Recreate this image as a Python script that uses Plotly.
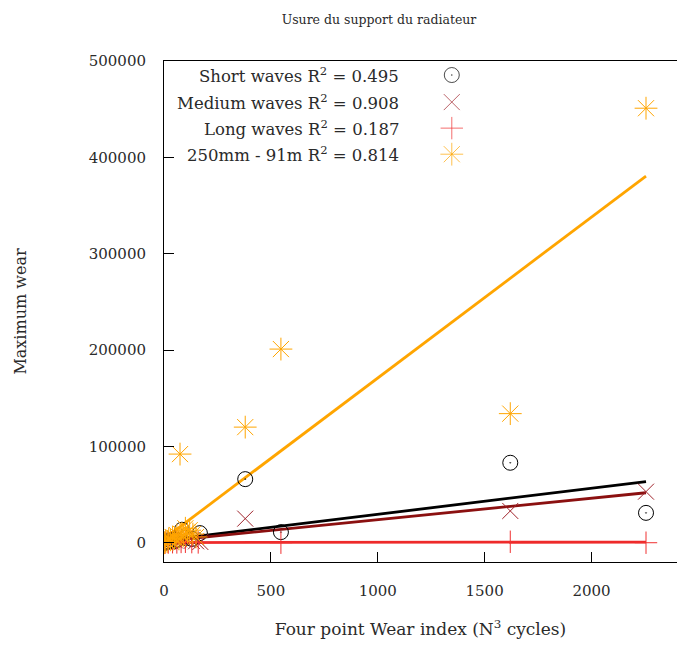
import plotly.graph_objects as go

# ---------------- data ----------------
short_x = [5, 12, 20, 30, 45, 60, 84, 100, 130, 168, 380, 547, 1620, 2255]
short_y = [0, 500, 1500, 2500, 1500, 3000, 13500, 5000, 4000, 10000, 66000, 11000, 83000, 31000]

medium_x = [5, 15, 30, 50, 70, 90, 110, 130, 150, 170, 380, 1620, 2255]
medium_y = [0, 800, 1500, 2500, 3500, 4000, 3000, 2000, 1500, 800, 25000, 33000, 53000]

long_x = [5, 20, 40, 60, 80, 100, 130, 160, 547, 1620, 2255]
long_y = [0, 200, 500, 300, 800, 1000, 600, 300, 0, 1000, 0]

mm_x = [3, 8, 15, 22, 30, 40, 50, 60, 70, 75, 80, 90, 100, 110, 120, 135, 150, 380, 547, 1620, 2255]
mm_y = [0, 2000, 1000, 4000, 3000, 6000, 5000, 8000, 4000, 92000, 9000, 7000, 15000, 11000, 13000, 9000, 6000, 120000, 201000, 134000, 451000]

# linear fits (slope, intercept) and R^2
fit_slope = [27.0, 22.3, 0.2, 167.0]
fit_intercept = [2500, 1600, 200, 4000]
r2 = [0.495, 0.908, 0.187, 0.814]
names = ["Short waves", "Medium waves", "Long waves", "250mm - 91m"]

x_ticks = [0, 500, 1000, 1500, 2000]
y_ticks = [0, 100000, 200000, 300000, 400000, 500000]

# ---------------- style ----------------
FONT = "DejaVu Serif"
TXT = "#2a2a2a"
marker_colors = ["black", "#a0242c", "#f03030", "#ffa500"]
line_colors = ["black", "#8b1010", "#ee2a2a", "#ffa500"]
symbols = ["circle-open-dot", "x-thin-open", "cross-thin-open", "asterisk-open"]
msizes = [15, 16, 16, 19]

series = [(short_x, short_y), (medium_x, medium_y), (long_x, long_y), (mm_x, mm_y)]

fig = go.Figure()

# fit lines
for i, (xs, ys) in enumerate(series):
    x0, x1 = min(xs), max(xs)
    fig.add_trace(go.Scatter(
        x=[x0, x1],
        y=[fit_intercept[i] + fit_slope[i] * x0, fit_intercept[i] + fit_slope[i] * x1],
        mode="lines", line=dict(color=line_colors[i], width=2.8),
        showlegend=False, hoverinfo="skip"))

# scatter points
for i, (xs, ys) in enumerate(series):
    fig.add_trace(go.Scatter(
        x=xs, y=ys, mode="markers", name=names[i],
        marker=dict(symbol=symbols[i], size=msizes[i], color=marker_colors[i],
                    line=dict(color=marker_colors[i], width=1)),
        showlegend=False))

# manual gnuplot-style key: right-aligned text, symbol on the right
key_rows = [0.972, 0.918, 0.866, 0.814]
fig.add_trace(go.Scatter(
    x=[0.561] * 4, y=key_rows, mode="markers", xaxis="x2", yaxis="y2",
    marker=dict(symbol=symbols, size=msizes, color=marker_colors,
                line=dict(color=marker_colors, width=1)),
    showlegend=False, hoverinfo="skip"))
annotations = []
for i in range(4):
    annotations.append(dict(
        x=0.462, y=key_rows[i], xref="paper", yref="paper",
        xanchor="right", yanchor="middle", showarrow=False,
        text=f"{names[i]} R<sup>2</sup> = {r2[i]:.3f}",
        font=dict(family=FONT, size=16.5, color=TXT)))

fig.update_layout(
    width=677, height=653,
    margin=dict(l=164, r=0, t=61, b=91),
    paper_bgcolor="white", plot_bgcolor="white",
    font=dict(family=FONT, size=15, color=TXT),
    title=dict(text="Usure du support du radiateur", x=379 / 677, xanchor="center",
               y=1 - 20 / 653, yanchor="middle", font=dict(family=FONT, size=12.5, color=TXT)),
    annotations=annotations,
    xaxis=dict(range=[0, 2400], tickvals=x_ticks, ticktext=[str(v) for v in x_ticks],
               showgrid=False, zeroline=False, showline=True, linecolor="black", linewidth=1,
               mirror=True, ticks="inside", ticklen=10, tickcolor="black",
               ticklabelstandoff=15, tickfont=dict(family=FONT, size=15, color=TXT),
               title=dict(text="Four point Wear index (N<sup>3</sup> cycles)", standoff=24,
                          font=dict(family=FONT, size=17, color=TXT))),
    yaxis=dict(range=[-20000, 500000], tickvals=y_ticks, ticktext=[str(v) for v in y_ticks],
               showgrid=False, zeroline=False, showline=True, linecolor="black", linewidth=1,
               mirror=True, ticks="inside", ticklen=10, tickcolor="black",
               ticklabelstandoff=14, tickfont=dict(family=FONT, size=15, color=TXT),
               title=dict(text="Maximum wear", standoff=58, font=dict(family=FONT, size=16, color=TXT))),
    xaxis2=dict(range=[0, 1], overlaying="x", visible=False),
    yaxis2=dict(range=[0, 1], overlaying="y", visible=False),
)

fig.write_html("out.html")
